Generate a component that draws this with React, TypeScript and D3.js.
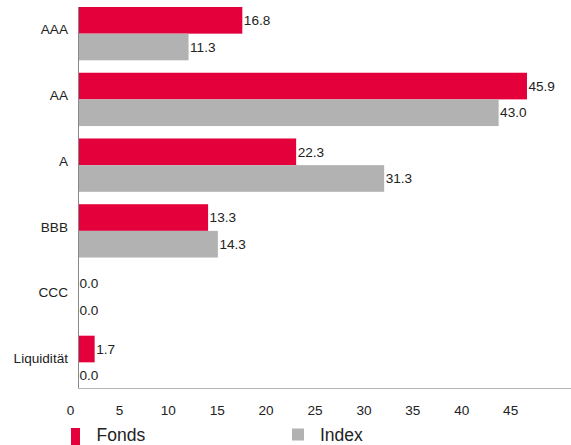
import React from "react";
import * as d3 from "d3";

const categories = ["AAA", "AA", "A", "BBB", "CCC", "Liquidität"];
const fonds = [16.8, 45.9, 22.3, 13.3, 0.0, 1.7];
const index = [11.3, 43.0, 31.3, 14.3, 0.0, 0.0];
const seriesNames = ["Fonds", "Index"];
const tickValues = [0, 5, 10, 15, 20, 25, 30, 35, 40, 45];

const W = 571;
const H = 445;
const RED = "#E4003A";
const GRAY = "#B2B2B2";
const FONT = "'Liberation Sans', Arial, sans-serif";

export default function App() {
  const x = d3.scaleLinear().domain([0, 50.4]).range([78, 571]);
  const y = d3.scaleBand<string>().domain(categories).range([7, 389]).paddingInner(0.189).paddingOuter(0);
  const inner = d3.scaleBand<string>().domain(seriesNames).range([0, y.bandwidth()]);
  const colors = [RED, GRAY];
  const data = [fonds, index];

  return (
    <svg width={W} height={H} style={{ position: "absolute", left: 0, top: 0 }} fontFamily={FONT}>
      <rect x={0} y={0} width={W} height={H} fill="#fff" />
      {categories.map((c, i) => (
        <g key={c}>
          {data.map((vals, s) => {
            const y0 = (y(c) as number) + (inner(seriesNames[s]) as number);
            const bh = inner.bandwidth();
            return (
              <g key={s}>
                <rect x={x(0)} y={y0} width={x(vals[i]) - x(0)} height={bh} fill={colors[s]} />
                <text x={x(vals[i]) + 1.5} y={y0 + bh / 2 + 4.7} fontSize={13.6} fill="#222">
                  {vals[i].toFixed(1)}
                </text>
              </g>
            );
          })}
          <text
            x={68}
            y={(y(c) as number) + y.bandwidth() / 2 + 0.7}
            fontSize={13.6}
            textAnchor="end"
            fill="#222"
          >
            {c}
          </text>
        </g>
      ))}
      <line x1={78.5} x2={78.5} y1={7} y2={389} stroke="#888" strokeWidth={1} />
      <line x1={78} x2={571} y1={388.5} y2={388.5} stroke="#b4b4b4" strokeWidth={1.2} />
      {tickValues.map((t) => (
        <text key={t} x={x(t) - 7.5} y={414.5} fontSize={13.6} textAnchor="middle" fill="#222">
          {t}
        </text>
      ))}
      <rect x={71} y={428} width={9} height={17} fill={RED} />
      <text x={96.5} y={441} fontSize={17.5} fill="#222">
        {seriesNames[0]}
      </text>
      <rect x={292} y={428.5} width={12} height={12} fill={GRAY} />
      <text x={320} y={441} fontSize={17.5} fill="#222">
        {seriesNames[1]}
      </text>
    </svg>
  );
}
